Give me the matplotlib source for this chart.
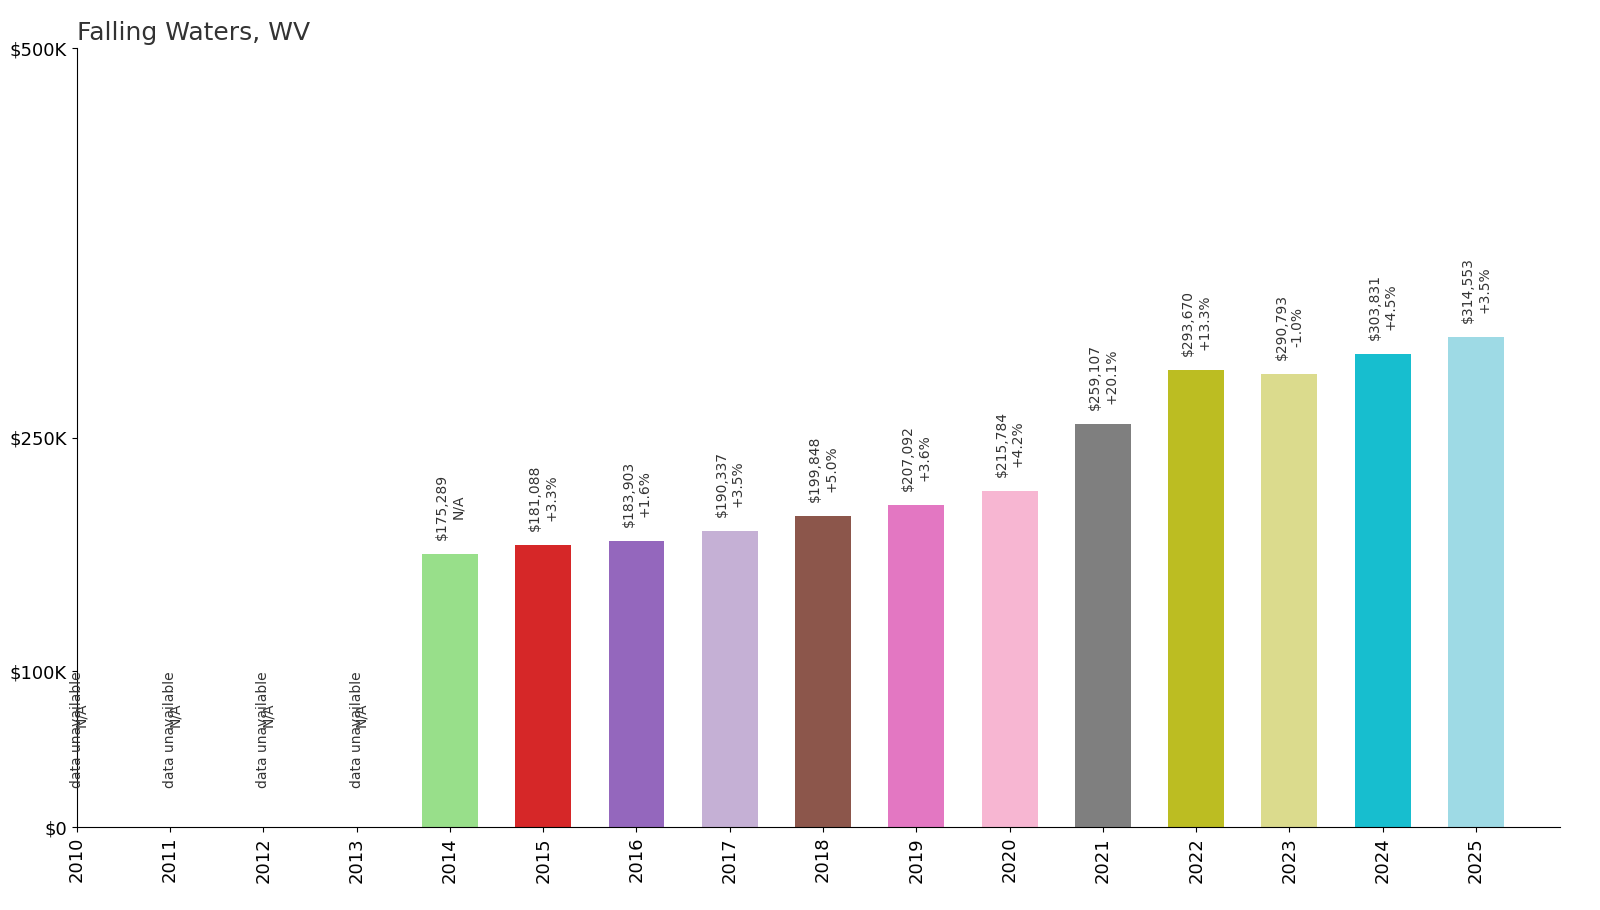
import numpy as np
import matplotlib.pyplot as plt

years = list(range(2010, 2026))
values = [None, None, None, None, 175289, 181088, 183903, 190337, 199848,
          207092, 215784, 259107, 293670, 290793, 303831, 314553]
changes = ["N/A", "N/A", "N/A", "N/A", "N/A", "+3.3%", "+1.6%", "+3.5%", "+5.0%",
           "+3.6%", "+4.2%", "+20.1%", "+13.3%", "-1.0%", "+4.5%", "+3.5%"]
colors = ["#98df8a", "#d62728", "#9467bd", "#c5b0d5", "#8c564b", "#e377c2",
          "#f7b6d2", "#7f7f7f", "#bcbd22", "#dbdb8d", "#17becf", "#9edae5"]
yticks = [0, 100000, 250000, 500000]
ytick_labels = ["$0", "$100K", "$250K", "$500K"]

fig, ax = plt.subplots(figsize=(16, 9.1), dpi=100)

ci = 0
for yr, v, ch in zip(years, values, changes):
    if v is None:
        ax.text(yr, 25000, "data unavailable", rotation=90, ha="center",
                va="bottom", fontsize=10, color="#333333")
        ax.text(yr + 0.05, 72000, "N/A", rotation=90, ha="center",
                va="center", fontsize=10, color="#333333")
        continue
    ax.bar(yr, v, width=0.6, color=colors[ci])
    ci += 1
    ax.text(yr, v + 9000, f"${v:,}\n{ch}", rotation=90, ha="center",
            va="bottom", fontsize=10, color="#333333")

ax.set_xlim(2010, 2025.9)
ax.set_ylim(0, 500000)
ax.set_xticks(years)
ax.set_xticklabels([str(y) for y in years], rotation=90, fontsize=13)
ax.set_yticks(yticks)
ax.set_yticklabels(ytick_labels, fontsize=13)
ax.spines["top"].set_visible(False)
ax.spines["right"].set_visible(False)
ax.set_title("Falling Waters, WV", loc="left", fontsize=18, color="#333333")

fig.subplots_adjust(left=0.048, right=0.975, top=0.947, bottom=0.091)
fig.savefig("out.png")
